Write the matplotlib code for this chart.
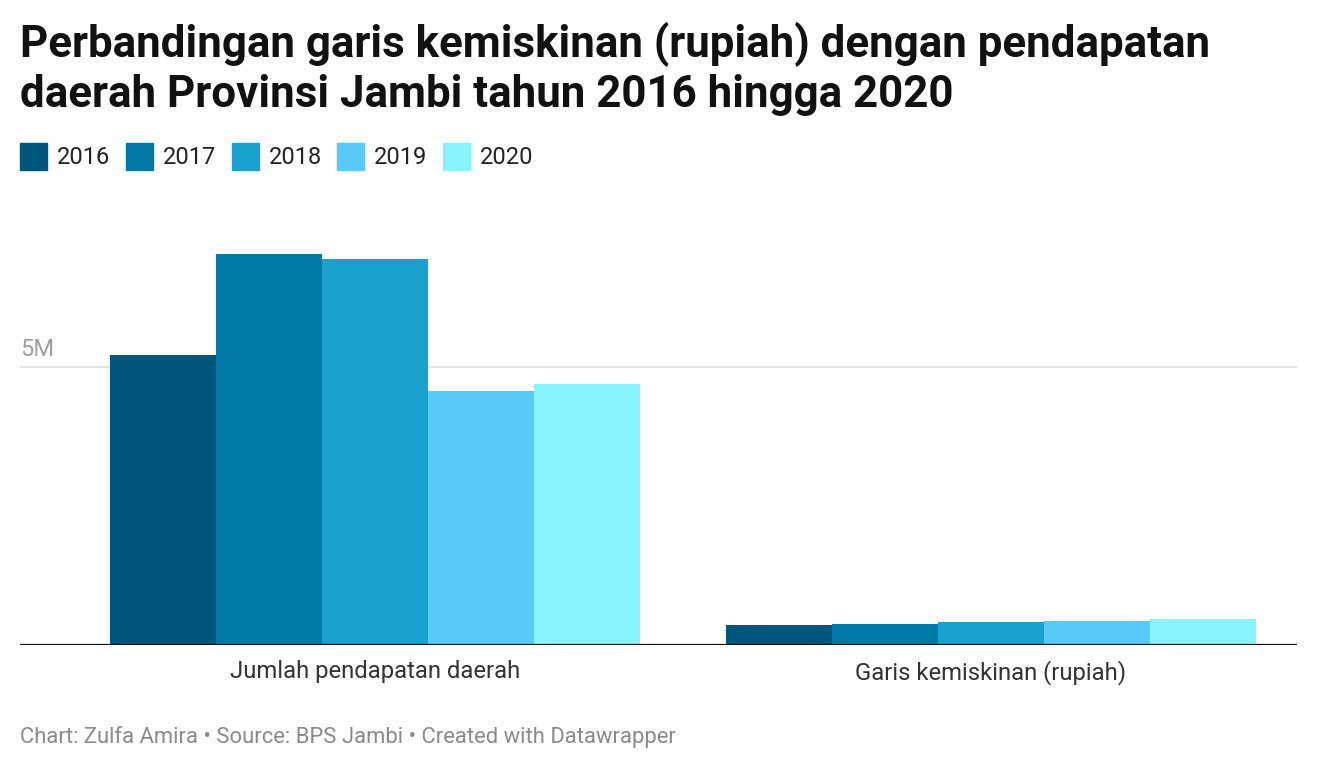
import matplotlib
matplotlib.use("Agg")
import matplotlib.pyplot as plt
import numpy as np
from matplotlib.patches import Rectangle

categories = ["Jumlah pendapatan daerah", "Garis kemiskinan (rupiah)"]
years = ["2016", "2017", "2018", "2019", "2020"]
values = {
    "2016": [5.216e6, 0.360e6],
    "2017": [7.032e6, 0.378e6],
    "2018": [6.942e6, 0.414e6],
    "2019": [4.568e6, 0.432e6],
    "2020": [4.694e6, 0.468e6],
}
colors = ["#00557b", "#0078a5", "#1aa1cf", "#57caf7", "#88f4ff"]
title = "Perbandingan garis kemiskinan (rupiah) dengan pendapatan\ndaerah Provinsi Jambi tahun 2016 hingga 2020"
footer = "Chart: Zulfa Amira \u2022 Source: BPS Jambi \u2022 Created with Datawrapper"

plt.rcParams['font.family'] = ['Roboto', 'DejaVu Sans']

W, H = 1318, 770
fig = plt.figure(figsize=(W / 100, H / 100), dpi=100)
ax = fig.add_axes([20 / W, 1 - 645 / H, (1297 - 20) / W, (645 - 200) / H])

x = np.arange(len(categories))
bw = 0.172
for i, (yr, c) in enumerate(zip(years, colors)):
    ax.bar(x + (i - 2) * bw, values[yr], width=bw, color=c, zorder=2, linewidth=0)

ax.set_xlim(-0.576, 1.497)
ax.set_ylim(0, 8e6)
ax.axhline(5e6, color="#e3e3e3", lw=1.4, zorder=1)
ax.axhline(0, color="#111111", lw=1.6, zorder=3)
ax.text(-0.576, 5e6 + 0.1e6, "5M", color="#9e9e9e", fontsize=17, ha="left", va="bottom")
for s in ax.spines.values():
    s.set_visible(False)
ax.set_yticks([])
ax.set_xticks(x)
ax.set_xticklabels(categories, fontsize=17.2, color="#333333")
ax.tick_params(axis="x", length=0, pad=11)

fig.text(20 / W, 1 - 22 / H, title, fontsize=31.6, fontweight="bold", color="#111111",
         ha="left", va="top", linespacing=1.2)

# legend
lx = [20, 126, 232, 337, 443]
for i, (yr, c) in enumerate(zip(years, colors)):
    fig.patches.append(Rectangle((lx[i] / W, 1 - 170 / H), 27 / W, 27 / H,
                                 transform=fig.transFigure, color=c, figure=fig))
    fig.text((lx[i] + 37) / W, 1 - 157 / H, yr, fontsize=17, color="#222222",
             ha="left", va="center")

fig.text(20 / W, 1 - 737 / H, footer, fontsize=15.85, color="#8a8a8a", ha="left", va="center")

fig.savefig("out.png", dpi=100)
